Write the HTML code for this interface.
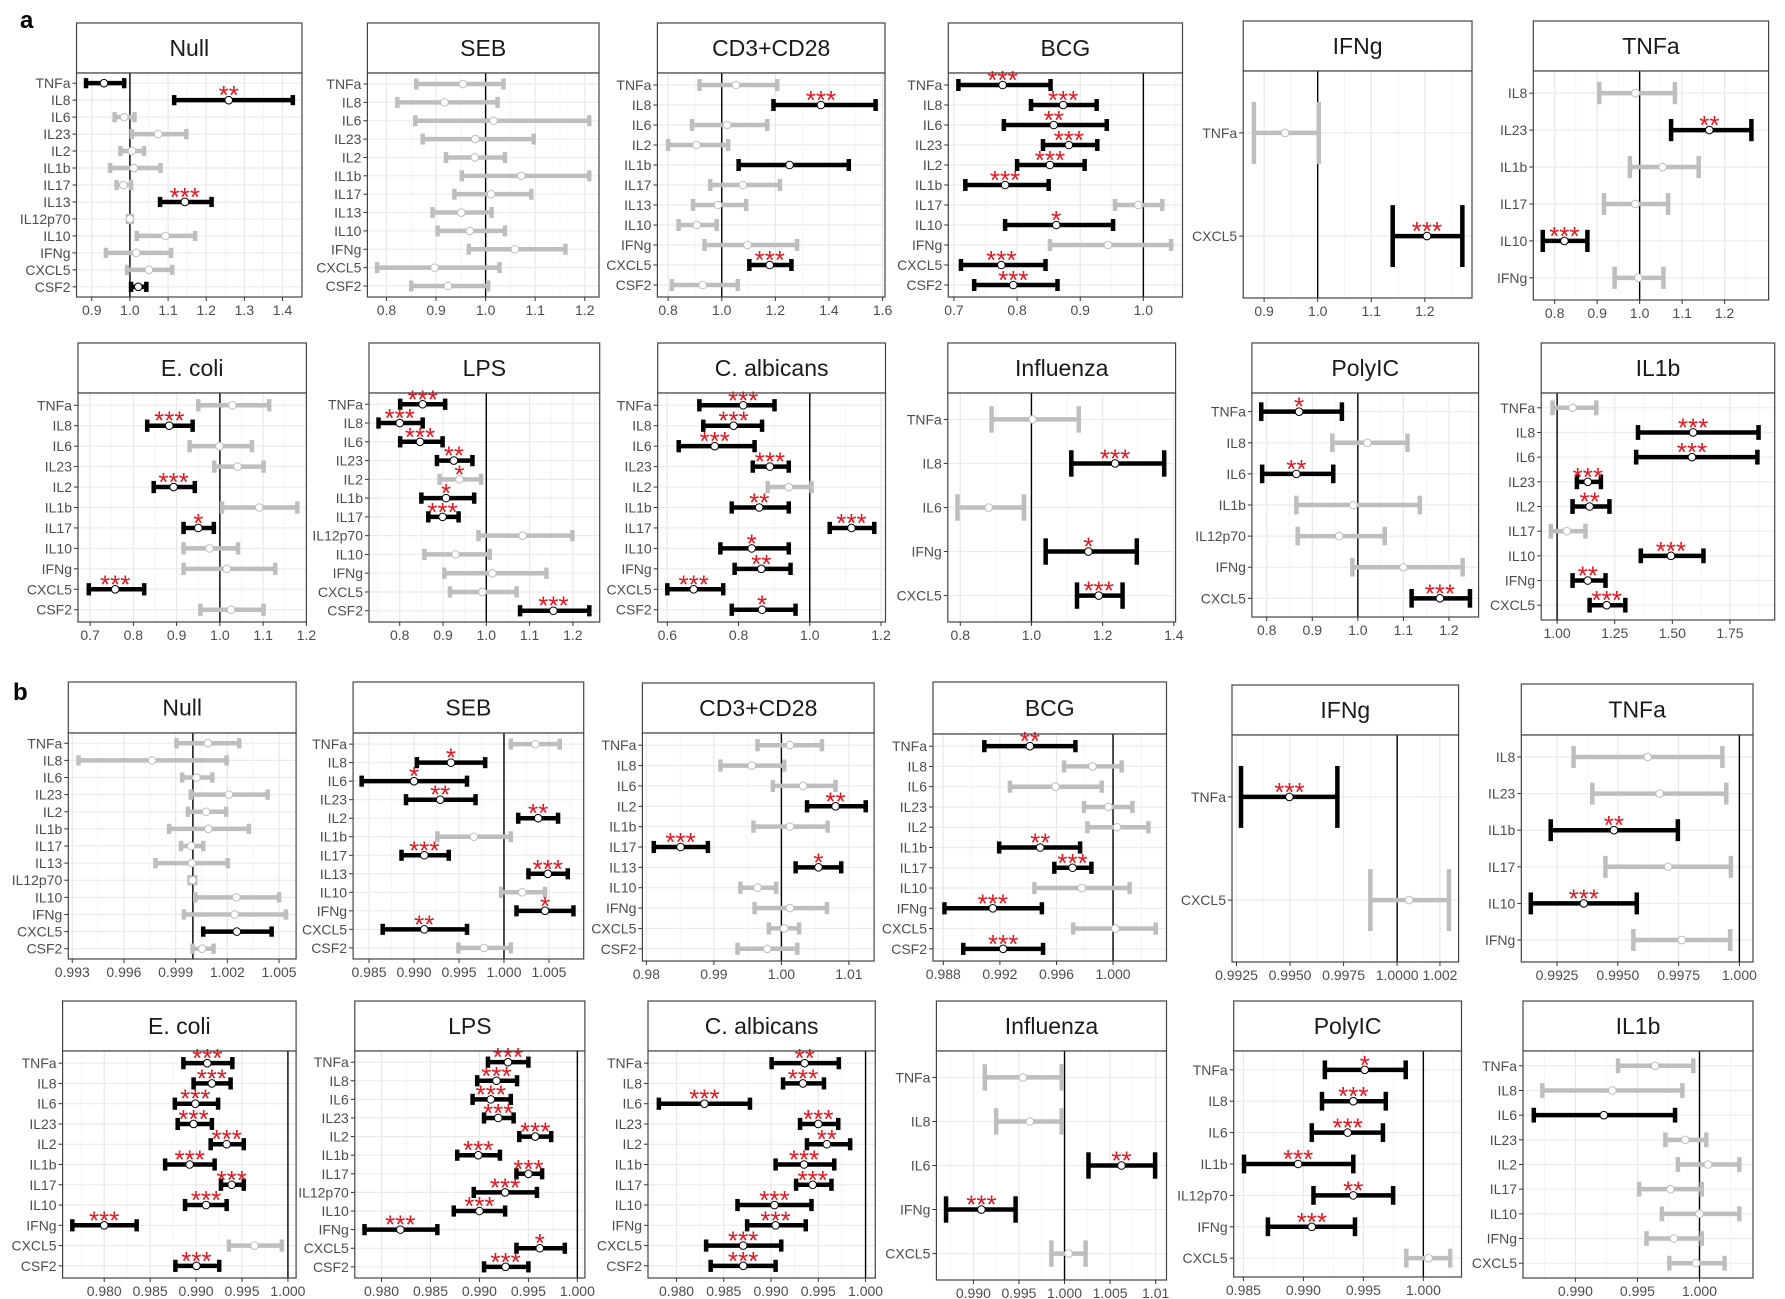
<!DOCTYPE html>
<html><head><meta charset="utf-8">
<style>
html,body{margin:0;padding:0;background:#fff;}
svg{display:block;font-family:"Liberation Sans",Arial,sans-serif;}
</style></head>
<body>
<svg id="fig" xmlns="http://www.w3.org/2000/svg" width="1785" height="1299" viewBox="0 0 1785 1299">
<rect x="0" y="0" width="1785" height="1299" fill="#fff"/>
<text x="20" y="28" font-size="24" font-weight="bold" fill="#000">a</text>
<text x="13" y="700" font-size="24" font-weight="bold" fill="#000">b</text>
</svg>
<script>
// ---------- DATA (a) ----------
const aNull_cats=["TNFa","IL8","IL6","IL23","IL2","IL1b","IL17","IL13","IL12p70","IL10","IFNg","CXCL5","CSF2"];
const aNull_lo=[0.885,1.116,0.960,1.005,0.975,0.948,0.965,1.079,0.995,1.018,0.937,0.993,1.003];
const aNull_mid=[0.932,1.259,0.985,1.074,1.005,1.010,0.983,1.144,1.000,1.093,1.017,1.050,1.022];
const aNull_hi=[0.985,1.427,1.012,1.148,1.037,1.080,1.003,1.214,1.005,1.171,1.108,1.111,1.043];
const aNull_sig=[1,1,0,0,0,0,0,1,0,0,0,0,1];
const aNull_stars=[0,2,0,0,0,0,0,3,0,0,0,0,0];

const aSEB_cats=["TNFa","IL8","IL6","IL23","IL2","IL1b","IL17","IL13","IL10","IFNg","CXCL5","CSF2"];
const aSEB_lo=[0.860,0.822,0.858,0.873,0.920,0.952,0.937,0.893,0.903,0.966,0.781,0.850];
const aSEB_mid=[0.954,0.917,1.016,0.979,0.978,1.072,1.011,0.951,0.968,1.059,0.897,0.924];
const aSEB_hi=[1.036,1.024,1.209,1.097,1.039,1.209,1.092,1.012,1.039,1.161,1.028,1.005];
const aSEB_sig=[0,0,0,0,0,0,0,0,0,0,0,0];
const aSEB_stars=[0,0,0,0,0,0,0,0,0,0,0,0];

const aCD3_cats=["TNFa","IL8","IL6","IL2","IL1b","IL17","IL13","IL10","IFNg","CXCL5","CSF2"];
const aCD3_lo=[0.917,1.193,0.889,0.800,1.063,0.957,0.893,0.839,0.936,1.103,0.814];
const aCD3_mid=[1.053,1.370,1.020,0.906,1.253,1.079,0.986,0.907,1.096,1.179,0.929];
const aCD3_hi=[1.207,1.574,1.170,1.024,1.474,1.217,1.091,0.981,1.281,1.260,1.060];
const aCD3_sig=[0,1,0,0,1,0,0,0,0,1,0];
const aCD3_stars=[0,3,0,0,0,0,0,0,0,3,0];

const aBCG_cats=["TNFa","IL8","IL6","IL23","IL2","IL1b","IL17","IL10","IFNg","CXCL5","CSF2"];
const aBCG_lo=[0.707,0.822,0.779,0.841,0.800,0.718,0.955,0.781,0.852,0.711,0.732];
const aBCG_mid=[0.777,0.873,0.858,0.882,0.852,0.781,0.992,0.862,0.944,0.775,0.794];
const aBCG_hi=[0.853,0.926,0.942,0.927,0.907,0.850,1.030,0.952,1.044,0.845,0.864];
const aBCG_sig=[1,1,1,1,1,1,0,1,0,1,1];
const aBCG_stars=[3,3,2,3,3,3,0,1,0,3,3];

const aIFNg_cats=["TNFa","CXCL5"];
const aIFNg_lo=[0.881,1.140];
const aIFNg_mid=[0.939,1.204];
const aIFNg_hi=[1.002,1.270];
const aIFNg_sig=[0,1];
const aIFNg_stars=[0,3];

const aTNFa_cats=["IL8","IL23","IL1b","IL17","IL10","IFNg"];
const aTNFa_lo=[0.905,1.074,0.977,0.916,0.772,0.941];
const aTNFa_mid=[0.990,1.164,1.054,0.990,0.823,0.997];
const aTNFa_hi=[1.083,1.263,1.139,1.067,0.877,1.056];
const aTNFa_sig=[0,1,0,0,1,0];
const aTNFa_stars=[0,2,0,0,3,0];

const aEcoli_cats=["TNFa","IL8","IL6","IL23","IL2","IL1b","IL17","IL10","IFNg","CXCL5","CSF2"];
const aEcoli_lo=[0.950,0.832,0.930,0.987,0.847,1.005,0.916,0.916,0.916,0.697,0.955];
const aEcoli_mid=[1.029,0.883,0.999,1.041,0.893,1.091,0.950,0.976,1.016,0.758,1.026];
const aEcoli_hi=[1.114,0.937,1.074,1.101,0.942,1.179,0.986,1.042,1.128,0.825,1.101];
const aEcoli_sig=[0,1,0,0,1,0,1,0,0,1,0];
const aEcoli_stars=[0,3,0,0,3,0,1,0,0,3,0];

const aLPS_cats=["TNFa","IL8","IL6","IL23","IL2","IL1b","IL17","IL12p70","IL10","IFNg","CXCL5","CSF2"];
const aLPS_lo=[0.801,0.751,0.801,0.886,0.892,0.850,0.866,0.982,0.857,0.903,0.916,1.078];
const aLPS_mid=[0.853,0.800,0.847,0.925,0.938,0.907,0.899,1.084,0.929,1.014,0.991,1.155];
const aLPS_hi=[0.905,0.853,0.899,0.968,0.988,0.972,0.936,1.199,1.008,1.139,1.070,1.238];
const aLPS_sig=[1,1,1,1,0,1,1,0,0,0,0,1];
const aLPS_stars=[3,3,3,2,1,1,3,0,0,0,0,3];

const aCalb_cats=["TNFa","IL8","IL6","IL23","IL2","IL1b","IL17","IL10","IFNg","CXCL5","CSF2"];
const aCalb_lo=[0.690,0.701,0.632,0.840,0.882,0.781,1.056,0.749,0.789,0.600,0.781];
const aCalb_mid=[0.813,0.786,0.733,0.888,0.941,0.858,1.117,0.837,0.864,0.674,0.866];
const aCalb_hi=[0.901,0.866,0.845,0.941,1.005,0.941,1.181,0.941,0.946,0.757,0.960];
const aCalb_sig=[1,1,1,1,0,1,1,1,1,1,1];
const aCalb_stars=[3,3,3,3,0,2,3,1,2,3,1];

const aFlu_cats=["TNFa","IL8","IL6","IFNg","CXCL5"];
const aFlu_lo=[0.888,1.112,0.792,1.040,1.128];
const aFlu_mid=[1.003,1.235,0.880,1.160,1.189];
const aFlu_hi=[1.133,1.373,0.979,1.296,1.256];
const aFlu_sig=[0,1,0,1,1];
const aFlu_stars=[0,3,0,1,3];

const aPoly_cats=["TNFa","IL8","IL6","IL1b","IL12p70","IFNg","CXCL5"];
const aPoly_lo=[0.788,0.944,0.790,0.865,0.868,0.988,1.118];
const aPoly_mid=[0.871,1.021,0.865,0.990,0.959,1.100,1.180];
const aPoly_hi=[0.965,1.109,0.946,1.136,1.059,1.230,1.246];
const aPoly_sig=[1,0,1,0,0,0,1];
const aPoly_stars=[1,0,2,0,0,0,3];

const aIL1b_cats=["TNFa","IL8","IL6","IL23","IL2","IL17","IL10","IFNg","CXCL5"];
const aIL1b_lo=[0.980,1.351,1.343,1.086,1.067,0.973,1.363,1.067,1.141];
const aIL1b_mid=[1.067,1.590,1.585,1.133,1.141,1.042,1.494,1.133,1.215];
const aIL1b_hi=[1.170,1.874,1.869,1.190,1.227,1.123,1.635,1.210,1.296];
const aIL1b_sig=[0,1,1,1,1,0,1,1,1];
const aIL1b_stars=[0,3,3,3,2,0,3,2,3];

// ---------- DATA (b) ----------
const bNull_cats=["TNFa","IL8","IL6","IL23","IL2","IL1b","IL17","IL13","IL12p70","IL10","IFNg","CXCL5","CSF2"];
const bNull_lo=[0.99905,0.99336,0.99938,0.99988,0.99971,0.99862,0.99931,0.99783,0.99981,1.00014,0.99948,1.00060,0.99998];
const bNull_mid=[1.00087,0.99763,1.00021,1.00209,1.00077,1.00090,0.99991,0.99994,0.99998,1.00252,1.00242,1.00255,1.00054];
const bNull_hi=[1.00269,1.00196,1.00113,1.00434,1.00193,1.00325,1.00060,1.00202,1.00014,1.00500,1.00540,1.00457,1.00120];
const bNull_sig=[0,0,0,0,0,0,0,0,0,0,0,1,0];
const bNull_stars=[0,0,0,0,0,0,0,0,0,0,0,0,0];

const bSEB_cats=["TNFa","IL8","IL6","IL23","IL2","IL1b","IL17","IL13","IL10","IFNg","CXCL5","CSF2"];
const bSEB_lo=[1.00076,0.99032,0.98418,0.98911,1.00158,0.99259,0.98861,1.00272,0.99968,1.00139,0.98652,0.99494];
const bSEB_mid=[1.00348,0.99411,0.99000,0.99291,1.00380,0.99665,0.99114,1.00487,1.00203,1.00456,0.99114,0.99778];
const bSEB_hi=[1.00620,0.99791,0.99589,0.99684,1.00601,1.00076,0.99386,1.00709,1.00456,1.00772,0.99589,1.00076];
const bSEB_sig=[0,1,1,1,1,0,1,1,0,1,1,0];
const bSEB_stars=[0,1,1,2,2,0,3,3,0,1,2,0];

const bCD3_cats=["TNFa","IL8","IL6","IL2","IL1b","IL17","IL13","IL10","IFNg","CXCL5","CSF2"];
const bCD3_lo=[0.99646,0.99097,0.99873,1.00380,0.99586,0.98110,1.00211,0.99392,0.99603,0.99814,0.99350];
const bCD3_mid=[1.00127,0.99561,1.00321,1.00802,1.00127,0.98506,1.00549,0.99646,1.00127,1.00042,0.99789];
const bCD3_hi=[1.00600,1.00042,1.00802,1.01249,1.00684,0.98911,1.00886,0.99924,1.00675,1.00262,1.00236];
const bCD3_sig=[0,0,0,1,0,1,1,0,0,0,0];
const bCD3_stars=[0,0,0,2,0,3,1,0,0,0,0];

const bBCG_cats=["TNFa","IL8","IL6","IL23","IL2","IL1b","IL17","IL10","IFNg","CXCL5","CSF2"];
const bBCG_lo=[0.99090,0.99654,0.99271,0.99795,0.99819,0.99195,0.99585,0.99444,0.98808,0.99718,0.98941];
const bBCG_mid=[0.99412,0.99855,0.99593,0.99968,1.00028,0.99485,0.99714,0.99779,0.99150,1.00016,0.99223];
const bBCG_hi=[0.99734,1.00061,0.99920,1.00137,1.00250,0.99767,0.99847,1.00117,0.99497,1.00302,0.99505];
const bBCG_sig=[1,0,0,0,0,1,1,0,1,0,1];
const bBCG_stars=[2,0,0,0,0,2,3,0,3,0,3];

const bIFNg_cats=["TNFa","CXCL5"];
const bIFNg_lo=[0.99271,0.99875];
const bIFNg_mid=[0.99497,1.00056];
const bIFNg_hi=[0.99721,1.00242];
const bIFNg_sig=[1,0];
const bIFNg_stars=[3,0];

const bTNFa_cats=["IL8","IL23","IL1b","IL17","IL10","IFNg"];
const bTNFa_lo=[0.99318,0.99395,0.99224,0.99449,0.99142,0.99564];
const bTNFa_mid=[0.99623,0.99672,0.99484,0.99707,0.99360,0.99763];
const bTNFa_hi=[0.99930,0.99946,0.99747,0.99965,0.99578,0.99962];
const bTNFa_sig=[0,0,1,0,1,0];
const bTNFa_stars=[0,0,2,0,3,0];

const bEcoli_cats=["TNFa","IL8","IL6","IL23","IL2","IL1b","IL17","IL10","IFNg","CXCL5","CSF2"];
const bEcoli_lo=[0.98862,0.98973,0.98769,0.98800,0.99159,0.98663,0.99271,0.98880,0.97653,0.99357,0.98775];
const bEcoli_mid=[0.99122,0.99172,0.98992,0.98973,0.99333,0.98930,0.99388,0.99109,0.98000,0.99636,0.99004];
const bEcoli_hi=[0.99395,0.99376,0.99240,0.99172,0.99519,0.99202,0.99519,0.99333,0.98353,0.99934,0.99252];
const bEcoli_sig=[1,1,1,1,1,1,1,1,1,0,1];
const bEcoli_stars=[3,3,3,3,3,3,3,3,3,0,3];

const bLPS_cats=["TNFa","IL8","IL6","IL23","IL2","IL1b","IL17","IL12p70","IL10","IFNg","CXCL5","CSF2"];
const bLPS_lo=[0.99087,0.98977,0.98930,0.99047,0.99407,0.98773,0.99378,0.98942,0.98738,0.97826,0.99378,0.99047];
const bLPS_mid=[0.99291,0.99174,0.99116,0.99192,0.99570,0.98988,0.99500,0.99262,0.99000,0.98192,0.99616,0.99267];
const bLPS_hi=[0.99500,0.99384,0.99320,0.99349,0.99733,0.99209,0.99640,0.99587,0.99262,0.98570,0.99872,0.99500];
const bLPS_sig=[1,1,1,1,1,1,1,1,1,1,1,1];
const bLPS_stars=[3,3,3,3,3,3,3,3,3,3,1,3];

const bCalb_cats=["TNFa","IL8","IL6","IL23","IL2","IL1b","IL17","IL10","IFNg","CXCL5","CSF2"];
const bCalb_lo=[0.99006,0.99127,0.97813,0.99307,0.99380,0.99048,0.99265,0.98645,0.98747,0.98313,0.98361];
const bCalb_mid=[0.99355,0.99337,0.98295,0.99500,0.99590,0.99349,0.99440,0.99036,0.99048,0.98705,0.98705];
const bCalb_hi=[0.99717,0.99560,0.98777,0.99711,0.99837,0.99669,0.99639,0.99428,0.99367,0.99108,0.99048];
const bCalb_sig=[1,1,1,1,1,1,1,1,1,1,1];
const bCalb_stars=[2,3,3,3,2,3,3,3,3,3,3];

const bFlu_cats=["TNFa","IL8","IL6","IFNg","CXCL5"];
const bFlu_lo=[0.99125,0.99250,1.00263,0.98700,0.99856];
const bFlu_mid=[0.99544,0.99619,1.00625,0.99088,1.00044];
const bFlu_hi=[0.99969,0.99969,1.00994,0.99463,1.00231];
const bFlu_sig=[0,0,1,1,0];
const bFlu_stars=[0,0,2,3,0];

const bPoly_cats=["TNFa","IL8","IL6","IL1b","IL12p70","IFNg","CXCL5"];
const bPoly_lo=[0.99179,0.99155,0.99070,0.98505,0.99084,0.98704,0.99858];
const bPoly_mid=[0.99511,0.99416,0.99369,0.98956,0.99416,0.99070,1.00043];
const bPoly_hi=[0.99853,0.99687,0.99663,0.99416,0.99748,0.99430,1.00223];
const bPoly_sig=[1,1,1,1,1,1,0];
const bPoly_stars=[1,3,3,3,2,3,0];

const bIL1b_cats=["TNFa","IL8","IL6","IL23","IL2","IL17","IL10","IFNg","CXCL5"];
const bIL1b_lo=[0.99344,0.98734,0.98665,0.99725,0.99826,0.99514,0.99697,0.99573,0.99757];
const bIL1b_mid=[0.99642,0.99298,0.99229,0.99885,1.00069,0.99766,1.00000,0.99794,0.99972];
const bIL1b_hi=[0.99950,0.99862,0.99803,1.00055,1.00321,1.00018,1.00321,1.00018,1.00202];
const bIL1b_sig=[0,0,1,0,0,0,0,0,0];
const bIL1b_stars=[0,0,0,0,0,0,0,0,0];

// tick labels
const tk_a_null=["0.9","1.0","1.1","1.2","1.3","1.4"];
const tk_a_seb=["0.8","0.9","1.0","1.1","1.2"];
const tk_a_cd3=["0.8","1.0","1.2","1.4","1.6"];
const tk_a_bcg=["0.7","0.8","0.9","1.0"];
const tk_a_ifng=["0.9","1.0","1.1","1.2"];
const tk_a_tnfa=["0.8","0.9","1.0","1.1","1.2"];
const tk_a_ecoli=["0.7","0.8","0.9","1.0","1.1","1.2"];
const tk_a_lps=["0.8","0.9","1.0","1.1","1.2"];
const tk_a_calb=["0.6","0.8","1.0","1.2"];
const tk_a_flu=["0.8","1.0","1.2","1.4"];
const tk_a_poly=["0.8","0.9","1.0","1.1","1.2"];
const tk_a_il1b=["1.00","1.25","1.50","1.75"];
const tk_b_null=["0.993","0.996","0.999","1.002","1.005"];
const tk_b_seb=["0.985","0.990","0.995","1.000","1.005"];
const tk_b_cd3=["0.98","0.99","1.00","1.01"];
const tk_b_bcg=["0.988","0.992","0.996","1.000"];
const tk_b_ifng=["0.9925","0.9950","0.9975","1.0000","1.002"];
const tk_b_tnfa=["0.9925","0.9950","0.9975","1.000"];
const tk_b_ecoli=["0.980","0.985","0.990","0.995","1.000"];
const tk_b_lps=["0.980","0.985","0.990","0.995","1.000"];
const tk_b_calb=["0.980","0.985","0.990","0.995","1.000"];
const tk_b_flu=["0.990","0.995","1.000","1.005","1.01"];
const tk_b_poly=["0.985","0.990","0.995","1.000"];
const tk_b_il1b=["0.990","0.995","1.000"];

// ---------- LAYOUT (geometry only) ----------
const R1={st:23,sb:73,pb:297}, R2={st:343,sb:393,pb:622}, R3={st:682,sb:733,pb:959}, R4={st:1001,sb:1051,pb:1278};
const panels=[
 {id:"a-null",title:"Null",x0:76.5,x1:302,r:R1,dom:[0.86,1.451],tk:tk_a_null,d:[aNull_cats,aNull_lo,aNull_mid,aNull_hi,aNull_sig,aNull_stars]},
 {id:"a-seb",title:"SEB",x0:367.4,x1:599,r:R1,dom:[0.7615,1.2287],tk:tk_a_seb,d:[aSEB_cats,aSEB_lo,aSEB_mid,aSEB_hi,aSEB_sig,aSEB_stars]},
 {id:"a-cd3",title:"CD3+CD28",x0:657.4,x1:885,r:R1,dom:[0.760,1.609],tk:tk_a_cd3,d:[aCD3_cats,aCD3_lo,aCD3_mid,aCD3_hi,aCD3_sig,aCD3_stars]},
 {id:"a-bcg",title:"BCG",x0:948.3,x1:1182.5,r:R1,dom:[0.691,1.062],tk:tk_a_bcg,d:[aBCG_cats,aBCG_lo,aBCG_mid,aBCG_hi,aBCG_sig,aBCG_stars]},
 {id:"a-ifng",title:"IFNg",x0:1243.2,x1:1472,r:{st:21,sb:71,pb:298},dom:[0.861,1.288],tk:tk_a_ifng,d:[aIFNg_cats,aIFNg_lo,aIFNg_mid,aIFNg_hi,aIFNg_sig,aIFNg_stars]},
 {id:"a-tnfa",title:"TNFa",x0:1533.3,x1:1768.6,r:{st:21,sb:71,pb:300},dom:[0.7497,1.3035],tk:tk_a_tnfa,d:[aTNFa_cats,aTNFa_lo,aTNFa_mid,aTNFa_hi,aTNFa_sig,aTNFa_stars]},
 {id:"a-ecoli",title:"E. coli",x0:78,x1:306.4,r:R2,dom:[0.672,1.200],tk:tk_a_ecoli,d:[aEcoli_cats,aEcoli_lo,aEcoli_mid,aEcoli_hi,aEcoli_sig,aEcoli_stars]},
 {id:"a-lps",title:"LPS",x0:369,x1:599.7,r:R2,dom:[0.729,1.262],tk:tk_a_lps,d:[aLPS_cats,aLPS_lo,aLPS_mid,aLPS_hi,aLPS_sig,aLPS_stars]},
 {id:"a-calb",title:"C. albicans",x0:657.7,x1:885.5,r:R2,dom:[0.573,1.2126],tk:tk_a_calb,d:[aCalb_cats,aCalb_lo,aCalb_mid,aCalb_hi,aCalb_sig,aCalb_stars]},
 {id:"a-flu",title:"Influenza",x0:947.8,x1:1175.6,r:R2,dom:[0.765,1.405],tk:tk_a_flu,d:[aFlu_cats,aFlu_lo,aFlu_mid,aFlu_hi,aFlu_sig,aFlu_stars]},
 {id:"a-polyic",title:"PolyIC",x0:1251.9,x1:1478.6,r:{st:343,sb:393,pb:617},dom:[0.7675,1.265],tk:tk_a_poly,d:[aPoly_cats,aPoly_lo,aPoly_mid,aPoly_hi,aPoly_sig,aPoly_stars]},
 {id:"a-il1b",title:"IL1b",x0:1541.2,x1:1774.7,r:{st:343,sb:393,pb:620},dom:[0.931,1.944],tk:tk_a_il1b,d:[aIL1b_cats,aIL1b_lo,aIL1b_mid,aIL1b_hi,aIL1b_sig,aIL1b_stars]},
 {id:"b-null",title:"Null",x0:68.3,x1:296.1,r:R3,dom:[0.99277,1.00599],tk:tk_b_null,d:[bNull_cats,bNull_lo,bNull_mid,bNull_hi,bNull_sig,bNull_stars]},
 {id:"b-seb",title:"SEB",x0:353.1,x1:583.7,r:R3,dom:[0.98323,1.00886],tk:tk_b_seb,d:[bSEB_cats,bSEB_lo,bSEB_mid,bSEB_hi,bSEB_sig,bSEB_stars]},
 {id:"b-cd3",title:"CD3+CD28",x0:642.4,x1:874.1,r:{st:683,sb:733,pb:961},dom:[0.97941,1.01373],tk:tk_b_cd3,d:[bCD3_cats,bCD3_lo,bCD3_mid,bCD3_hi,bCD3_sig,bCD3_stars]},
 {id:"b-bcg",title:"BCG",x0:933,x1:1166.5,r:{st:682,sb:734,pb:961},dom:[0.98727,1.00378],tk:tk_b_bcg,d:[bBCG_cats,bBCG_lo,bBCG_mid,bBCG_hi,bBCG_sig,bBCG_stars]},
 {id:"b-ifng",title:"IFNg",x0:1232,x1:1458.6,r:{st:685,sb:735,pb:962},dom:[0.99229,1.00287],tk:tk_b_ifng,d:[bIFNg_cats,bIFNg_lo,bIFNg_mid,bIFNg_hi,bIFNg_sig,bIFNg_stars]},
 {id:"b-tnfa",title:"TNFa",x0:1521.3,x1:1753,r:{st:684,sb:735,pb:962},dom:[0.99103,1.00056],tk:tk_b_tnfa,d:[bTNFa_cats,bTNFa_lo,bTNFa_mid,bTNFa_hi,bTNFa_sig,bTNFa_stars]},
 {id:"b-ecoli",title:"E. coli",x0:62.6,x1:296.1,r:R4,dom:[0.97547,1.00089],tk:tk_b_ecoli,d:[bEcoli_cats,bEcoli_lo,bEcoli_mid,bEcoli_hi,bEcoli_sig,bEcoli_stars]},
 {id:"b-lps",title:"LPS",x0:354.8,x1:584.9,r:R4,dom:[0.97727,1.00077],tk:tk_b_lps,d:[bLPS_cats,bLPS_lo,bLPS_mid,bLPS_hi,bLPS_sig,bLPS_stars]},
 {id:"b-calb",title:"C. albicans",x0:648,x1:875.3,r:R4,dom:[0.97698,1.00103],tk:tk_b_calb,d:[bCalb_cats,bCalb_lo,bCalb_mid,bCalb_hi,bCalb_sig,bCalb_stars]},
 {id:"b-flu",title:"Influenza",x0:936.4,x1:1166.5,r:{st:1001,sb:1051,pb:1280},dom:[0.98594,1.01119],tk:tk_b_flu,d:[bFlu_cats,bFlu_lo,bFlu_mid,bFlu_hi,bFlu_sig,bFlu_stars]},
 {id:"b-polyic",title:"PolyIC",x0:1233.7,x1:1461.5,r:{st:1001,sb:1051,pb:1277},dom:[0.98419,1.00318],tk:tk_b_poly,d:[bPoly_cats,bPoly_lo,bPoly_mid,bPoly_hi,bPoly_sig,bPoly_stars]},
 {id:"b-il1b",title:"IL1b",x0:1523,x1:1753,r:R4,dom:[0.98578,1.00431],tk:tk_b_il1b,d:[bIL1b_cats,bIL1b_lo,bIL1b_mid,bIL1b_hi,bIL1b_sig,bIL1b_stars]}
];

const NS="http://www.w3.org/2000/svg";
const svg=document.getElementById("fig");
function mk(tag,attrs,parent){const e=document.createElementNS(NS,tag);for(const k in attrs)e.setAttribute(k,attrs[k]);parent.appendChild(e);return e;}

panels.forEach(p=>{
  const [cats,lo,mid,hi,sig,stars]=p.d;
  const {st,sb,pb}=p.r;
  const x0=p.x0,x1=p.x1,W=x1-x0;
  const xs=v=>x0+(v-p.dom[0])/(p.dom[1]-p.dom[0])*W;
  const n=cats.length, step=(pb-sb)/(n-1+1.2);
  const ys=i=>sb+(0.6+i)*step;
  const tv=p.tk.map(Number);
  const g=mk("g",{},svg);
  
  
  const strip=mk("rect",{x:x0,y:st,width:W,height:sb-st,fill:"#fff",stroke:"#444","stroke-width":1.2},g);
  
  
  const tt=mk("text",{x:x0+W/2,y:(st+sb)/2+8,"text-anchor":"middle","font-size":23,fill:"#1a1a1a"},g);
  tt.textContent=p.title;
  
  
  const bg=mk("rect",{x:x0,y:sb,width:W,height:pb-sb,fill:"#fff"},g);
  
  
  const dt=tv[1]-tv[0];
  const minors=[tv[0]-dt/2];
  for(let i=0;i<tv.length;i++)minors.push(tv[i]+dt/2);
  minors.forEach(v=>{if(v>p.dom[0]&&v<p.dom[1]){const l=mk("line",{x1:xs(v),x2:xs(v),y1:sb,y2:pb,stroke:"#f3f3f3","stroke-width":0.8},g);
    
    }});
  tv.forEach(v=>{if(v>=p.dom[0]&&v<=p.dom[1]){const l=mk("line",{x1:xs(v),x2:xs(v),y1:sb,y2:pb,stroke:"#e8e8e8","stroke-width":1.2},g);
    
    }});
  cats.forEach((c,i)=>{const l=mk("line",{x1:x0,x2:x1,y1:ys(i),y2:ys(i),stroke:"#ebebeb","stroke-width":1.2},g);
    
    });
  const ref=mk("line",{x1:xs(1),x2:xs(1),y1:sb,y2:pb,stroke:"#000","stroke-width":1.4},g);
  
  
  cats.forEach((c,i)=>{
    const col=sig[i]?"#000":"#bebebe";
    const y=ys(i), ch=step*0.3;
    const eg=mk("g",{},g);
    
    
    mk("line",{x1:xs(lo[i]),x2:xs(hi[i]),y1:y,y2:y,stroke:col,"stroke-width":4.5},eg);
    mk("line",{x1:xs(lo[i]),x2:xs(lo[i]),y1:y-ch,y2:y+ch,stroke:col,"stroke-width":4.5},eg);
    mk("line",{x1:xs(hi[i]),x2:xs(hi[i]),y1:y-ch,y2:y+ch,stroke:col,"stroke-width":4.5},eg);
    const pt=mk("circle",{cx:xs(mid[i]),cy:y,r:3.8,fill:"#fff",stroke:col,"stroke-width":1},eg);
    
    
    if(stars[i]>0){
      const s=mk("text",{x:xs(mid[i]),y:y+4,"text-anchor":"middle","font-size":26,fill:"#e8141c"},eg);
      s.textContent="*".repeat(stars[i]);
      
      
    }
    const lab=mk("text",{x:x0-6,y:y+5,"text-anchor":"end","font-size":14,fill:"#4d4d4d"},g);
    lab.textContent=c;
    
    
    mk("line",{x1:x0-4,x2:x0,y1:y,y2:y,stroke:"#333","stroke-width":1},g);
  });
  const br=mk("rect",{x:x0,y:sb,width:W,height:pb-sb,fill:"none",stroke:"#444","stroke-width":1.2},g);
  
  
  tv.forEach((v,i)=>{
    const x=xs(v);
    mk("line",{x1:x,x2:x,y1:pb,y2:pb+4,stroke:"#333","stroke-width":1},g);
    const t=mk("text",{x:x,y:pb+18,"text-anchor":"middle","font-size":14,fill:"#4d4d4d"},g);
    t.textContent=p.tk[i];
    
    
  });
});
</script>
</body></html>
